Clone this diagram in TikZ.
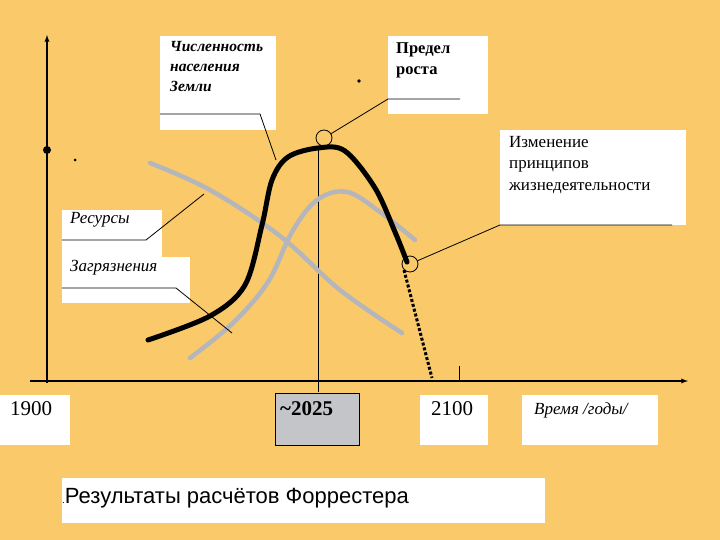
\documentclass[tikz,border=0pt]{standalone}
\usepackage{fontspec}
\setmainfont{Liberation Serif}
\newfontfamily\arialf{Liberation Sans}
\begin{document}
\begin{tikzpicture}[x=1pt,y=-1pt,
  wbox/.style={fill=white,draw=none},
  ctext/.style={anchor=north west,align=left,inner sep=0pt},
  thin/.style={line width=0.8pt}]
\definecolor{bg}{HTML}{F9C96A}
\definecolor{gr}{HTML}{B4B6BC}
\fill[bg] (0,0) rectangle (720,540);
\useasboundingbox (0,0) rectangle (720,540);
% boxes
\fill[wbox] (160,36) rectangle (276,130);
\fill[wbox] (388,36) rectangle (488,114);
\fill[wbox] (500,130) rectangle (686,225);
\fill[wbox] (62,210) rectangle (162,257);
\fill[wbox] (62,257) rectangle (190,303);
\node[ctext,font=\fontsize{15.5}{20}\selectfont\bfseries\itshape] (tpop) at (170,41) {Численность\\населения\\Земли};
\node[ctext,font=\fontsize{16.5}{21}\selectfont\bfseries] (tlim) at (396,42) {Предел\\роста};
\node[ctext,font=\fontsize{17}{21.5}\selectfont] (tchg) at (509,136) {Изменение\\принципов\\жизнедеятельности};
\node[ctext,font=\fontsize{17}{20}\selectfont\itshape] (tres) at (70,212) {Ресурсы};
\node[ctext,font=\fontsize{17}{20}\selectfont\itshape] (tpol) at (70,260) {Загрязнения};
% axes
\coordinate (yb) at (47,383); \coordinate (yt) at (47,35);
\coordinate (xl) at (30,381); \coordinate (xr) at (688,381);
\draw[line width=1.3pt,-latex] (yb) -- (yt);
\draw[line width=1.3pt,-latex] (xl) -- (xr);
\draw[thin] (459,366) -- (459,381);
\draw[thin] (318,148) -- (318,392);
\fill (47,150) circle (4);
\fill (75,160) circle (1.5);
\fill (359,81) circle (1.8);
% curves
\draw[line width=4.5pt,color=gr,line cap=round] plot[smooth,tension=0.6] coordinates {(150,163) (210,190) (280,236) (340,290) (402,333)};
\draw[line width=4.5pt,color=gr,line cap=round] plot[smooth,tension=0.6] coordinates {(190,358) (233,323) (268,282) (292,232) (317,200) (347,192) (380,212) (415,240)};
\draw[line width=5pt,line cap=round] plot[smooth,tension=0.55] coordinates {(148,340) (210,316) (245,285) (262,225) (272,180) (288,157) (318,148) (345,151) (375,188) (395,232) (407,262)};
\draw[line width=3pt,dotted] (404,270) -- (432,378);
% callouts
\node[draw,thin,circle,minimum size=16pt,inner sep=0pt] (c1) at (324,138) {};
\node[draw,thin,circle,minimum size=16pt,inner sep=0pt] (c2) at (410,264) {};
\coordinate (pa) at (160,114); \coordinate (pb) at (260,114); \coordinate (pc) at (276,160);
\draw[thin] (pa) -- (pb) -- (pc);
\coordinate (la) at (460,99); \coordinate (lb) at (388,99);
\draw[thin] (la) -- (lb) -- (c1);
\coordinate (ha) at (672,225); \coordinate (hb) at (500,225);
\draw[thin] (ha) -- (hb) -- (c2);
\coordinate (ra) at (62,240); \coordinate (rb) at (146,240); \coordinate (rc) at (204,194);
\draw[thin] (ra) -- (rb) -- (rc);
\coordinate (za) at (62,288); \coordinate (zb) at (176,288); \coordinate (zc) at (232,333);
\draw[thin] (za) -- (zb) -- (zc);
% bottom boxes
\node[wbox,minimum width=70pt,minimum height=50pt,anchor=north west,inner sep=0pt] (b1) at (0,395) {};
\node[anchor=north west,inner sep=0pt,font=\fontsize{21}{22}\selectfont] (t1) at (10,401) {1900};
\node[fill=gr!80!white,draw,thin,minimum width=84pt,minimum height=52pt,anchor=north west,inner sep=0pt] (b2) at (275,393) {};
\node[anchor=north west,inner sep=0pt,font=\fontsize{21}{22}\selectfont\bfseries] (t2) at (280,401) {{\char"7E}2025};
\node[wbox,minimum width=68pt,minimum height=50pt,anchor=north west,inner sep=0pt] (b3) at (420,395) {};
\node[anchor=north west,inner sep=0pt,font=\fontsize{21}{22}\selectfont] (t3) at (431,401) {2100};
\node[wbox,minimum width=136pt,minimum height=50pt,anchor=north west,inner sep=0pt] (b4) at (522,395) {};
\node[anchor=north west,inner sep=0pt,font=\fontsize{17}{20}\selectfont\itshape] (t4) at (534,403) {Время /годы/};
\node[wbox,minimum width=483pt,minimum height=45pt,anchor=north west,inner sep=0pt] (b5) at (62,478) {};
\node[anchor=west,inner sep=0pt,font=\arialf\fontsize{22}{24}\selectfont] (t5) at (62,498) {{\fontsize{10}{10}\selectfont.}Результаты расчётов Форрестера};
\end{tikzpicture}
\end{document}
